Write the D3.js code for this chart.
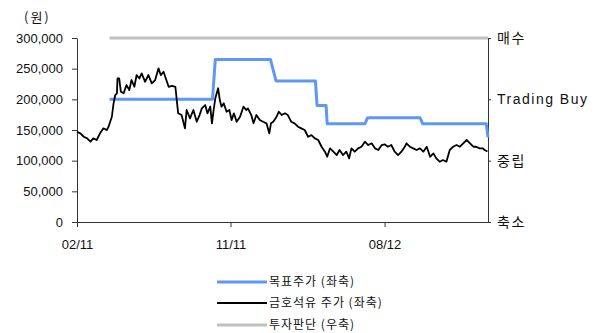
<!DOCTYPE html>
<html><head><meta charset="utf-8">
<script src="https://cdn.jsdelivr.net/npm/d3@7"></script>
<style>body{margin:0;background:#fff}svg{display:block}</style>
</head><body><svg id="c" width="603" height="333"></svg>
<script>
const priceDates = ["2011-02-01","2011-02-07","2011-02-13","2011-02-19","2011-02-25","2011-03-02","2011-03-08","2011-03-14","2011-03-20","2011-03-26","2011-03-29","2011-04-01","2011-04-04","2011-04-07","2011-04-10","2011-04-13","2011-04-14","2011-04-17","2011-04-20","2011-04-25","2011-04-30","2011-05-05","2011-05-09","2011-05-14","2011-05-18","2011-05-23","2011-05-27","2011-06-02","2011-06-08","2011-06-14","2011-06-20","2011-06-26","2011-06-30","2011-07-05","2011-07-09","2011-07-14","2011-07-20","2011-07-26","2011-07-29","2011-07-31","2011-08-06","2011-08-12","2011-08-15","2011-08-21","2011-08-27","2011-09-02","2011-09-07","2011-09-11","2011-09-17","2011-09-21","2011-09-26","2011-09-29","2011-10-02","2011-10-05","2011-10-10","2011-10-13","2011-10-16","2011-10-20","2011-10-25","2011-10-30","2011-11-03","2011-11-07","2011-11-12","2011-11-18","2011-11-24","2011-11-29","2011-12-02","2011-12-08","2011-12-12","2011-12-17","2011-12-23","2011-12-29","2012-01-04","2012-01-09","2012-01-12","2012-01-16","2012-01-22","2012-01-26","2012-01-31","2012-02-06","2012-02-11","2012-02-17","2012-02-23","2012-02-29","2012-03-06","2012-03-12","2012-03-18","2012-03-24","2012-03-30","2012-04-05","2012-04-11","2012-04-17","2012-04-21","2012-04-26","2012-05-02","2012-05-08","2012-05-13","2012-05-19","2012-05-25","2012-05-30","2012-06-03","2012-06-09","2012-06-15","2012-06-21","2012-06-27","2012-07-03","2012-07-09","2012-07-15","2012-07-21","2012-07-27","2012-08-01","2012-08-07","2012-08-13","2012-08-19","2012-08-25","2012-08-31","2012-09-06","2012-09-09","2012-09-15","2012-09-21","2012-09-27","2012-10-03","2012-10-09","2012-10-15","2012-10-21","2012-10-27","2012-11-01","2012-11-07","2012-11-13","2012-11-19","2012-11-25","2012-12-01","2012-12-07","2012-12-13","2012-12-19","2012-12-25","2012-12-31","2013-01-06","2013-01-11","2013-01-17","2013-01-23","2013-01-26","2013-01-31"];
const priceValues = [147000,144600,139000,136400,131000,136400,133700,144600,152700,150000,155000,163500,171600,193500,207000,209800,234000,234000,212400,209800,223300,215000,231500,220500,239600,234000,242300,228700,239600,226000,231500,250500,239600,245000,234000,220500,222000,220500,193500,177200,174400,152700,182600,169000,182600,163500,174400,185300,190700,177200,188000,160900,182600,201600,218000,198900,188000,193500,179800,182600,166300,177200,163500,171600,188000,182600,185300,174400,160900,174400,166300,163500,160900,144600,160900,163500,171600,179800,174400,177200,174400,163500,160900,155400,152700,150000,139000,141700,136400,133700,122700,114600,106400,120100,114600,109200,117400,109200,114600,103800,120100,114600,120100,122700,131000,125500,128300,120100,117400,125500,126600,122700,125500,114600,109200,114600,122700,128300,122700,120100,117400,120100,114600,122700,106400,111900,103800,98300,101000,98300,117400,122700,125500,122700,128300,133700,128300,122700,122700,120100,120100,117400,115000];

const targetDates = ["2011-03-31","2011-09-30","2011-10-05","2012-01-11","2012-01-21","2012-03-31","2012-04-03","2012-04-19","2012-04-21","2012-06-27","2012-07-02","2012-10-03","2012-10-08","2013-01-29","2013-02-01"];
const targetValues = [200000,200000,265000,265000,230000,230000,190000,190000,160000,160000,170000,170000,160000,160000,138000];

const opinionDates = ["2011-03-31","2013-02-01"];
const opinionLevels = [3,3];
const opinionLabels = ["축소","중립","Trading Buy","매수"];

const leftTicks = [0,50000,100000,150000,200000,250000,300000];
const xTickDates = ["2011-02-01","2011-11-01","2012-08-01"];
const xDomain = ["2011-02-01","2013-02-01"];
const seriesNames = ["목표주가 (좌축)","금호석유 주가 (좌축)","투자판단 (우축)"];
const seriesColors = ["#5f97f7","#000000","#c0c0c0"];
const unitLabel = "(원)";

const parse = d3.timeParse("%Y-%m-%d");
const svg = d3.select("#c");
const FONT = "'Liberation Sans', Arial, 'Noto Sans CJK KR', sans-serif";
const KFONT = "'Noto Sans CJK KR', 'Liberation Sans', sans-serif";

const x = d3.scaleTime().domain(xDomain.map(parse)).range([77, 488]);
const yL = d3.scaleLinear().domain([0, 300000]).range([222, 38]);
const yR = d3.scaleLinear().domain([0, 3]).range([222, 38]);

// axes
const gL = svg.append("g").attr("transform", "translate(77,0)")
  .call(d3.axisLeft(yL).tickValues(leftTicks).tickFormat(d3.format(",")).tickSize(5).tickSizeOuter(0).tickPadding(9));
gL.selectAll("text").attr("font-family", FONT).attr("font-size", 13).attr("fill", "#111");

const gB = svg.append("g").attr("transform", "translate(0,222)")
  .call(d3.axisBottom(x).tickValues(xTickDates.map(parse)).tickFormat(d3.timeFormat("%m/%y")).tickSize(5).tickSizeOuter(0).tickPadding(13));
gB.selectAll("text").attr("font-family", FONT).attr("font-size", 13).attr("fill", "#111");

const gR = svg.append("g").attr("transform", "translate(488,0)")
  .call(d3.axisRight(yR).tickValues([0,1,2,3]).tickFormat(i => opinionLabels[i]).tickSize(3).tickSizeOuter(0).tickPadding(6));
gR.selectAll("text").attr("font-family", FONT).attr("font-size", 14).attr("letter-spacing", 1.5).attr("fill", "#111");

svg.selectAll(".domain, .tick line").attr("stroke", "#333");

svg.append("text").attr("x", 24).attr("y", 22).attr("font-family", KFONT).attr("font-size", 13)
  .attr("letter-spacing", 2).attr("fill", "#111").text(unitLabel);

// lines
const lineL = d3.line().x(d => x(d[0])).y(d => yL(d[1]));
const lineR = d3.line().x(d => x(d[0])).y(d => yR(d[1]));

const targetData = targetDates.map((d, i) => [parse(d), targetValues[i]]);
const priceData = priceDates.map((d, i) => [parse(d), priceValues[i]]);
const opinionData = opinionDates.map((d, i) => [parse(d), opinionLevels[i]]);

svg.append("path").datum(opinionData).attr("d", lineR).attr("fill", "none")
  .attr("stroke", seriesColors[2]).attr("stroke-width", 3);
svg.append("path").datum(targetData).attr("d", lineL).attr("fill", "none")
  .attr("stroke", seriesColors[0]).attr("stroke-width", 3).attr("stroke-linejoin", "round");
svg.append("path").datum(priceData).attr("d", lineL).attr("fill", "none")
  .attr("stroke", seriesColors[1]).attr("stroke-width", 1.8).attr("stroke-linejoin", "round");

// legend
const legY = [282, 303, 325];
const widths = [3, 1.8, 3];
seriesNames.forEach((n, i) => {
  svg.append("line").attr("x1", 217).attr("x2", 267).attr("y1", legY[i]).attr("y2", legY[i])
    .attr("stroke", seriesColors[i]).attr("stroke-width", widths[i]);
  svg.append("text").attr("x", 269).attr("y", legY[i]).attr("dy", "0.35em")
    .attr("font-family", KFONT).attr("font-size", 12).attr("letter-spacing", 1).attr("fill", "#111").text(n);
});
</script></body></html>
